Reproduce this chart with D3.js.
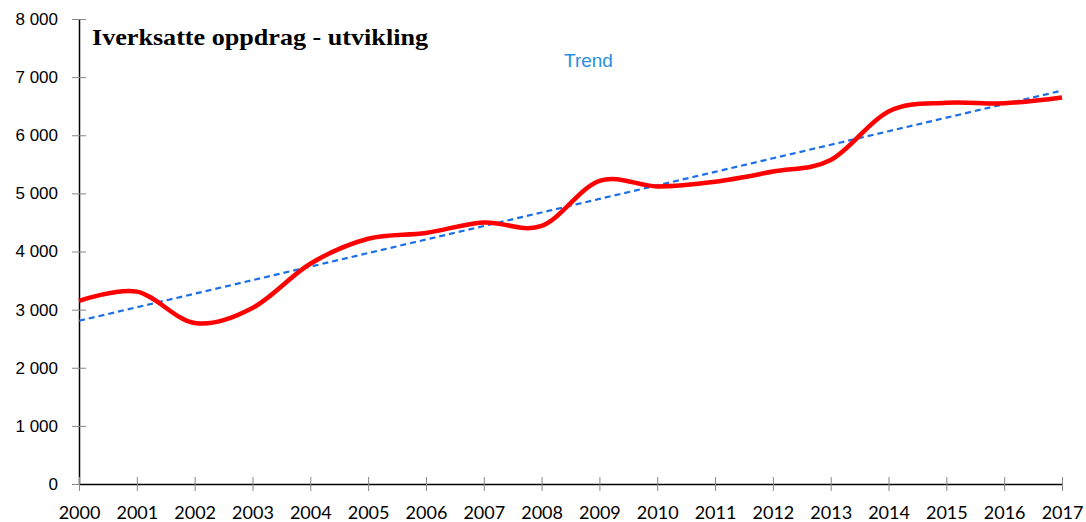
<!DOCTYPE html>
<html>
<head>
<meta charset="utf-8">
<script src="https://cdn.jsdelivr.net/npm/d3@7"></script>
<style>
  body { margin: 0; background: #fff; }
</style>
</head>
<body>
<svg id="chart" width="1086" height="522"></svg>
<script>
// years and the number of executed assignments
const years = [2000, 2001, 2002, 2003, 2004, 2005, 2006, 2007, 2008, 2009, 2010, 2011, 2012, 2013, 2014, 2015, 2016, 2017]
const values = [3150, 3310, 2770, 3030, 3790, 4220, 4320, 4500, 4440, 5215, 5120, 5200, 5375, 5575, 6410, 6560, 6550, 6650]
const yTicks = [0, 1000, 2000, 3000, 4000, 5000, 6000, 7000, 8000]

const titleText = "Iverksatte oppdrag - utvikling"
const trendLabel = "Trend"

const plotLeft = 79, plotRight = 1062, plotTop = 19, plotBottom = 484
const svg = d3.select('#chart')

const x = d3.scaleLinear()
  .domain([years[0], years[years.length - 1]])
  .range([plotLeft, plotRight])

const y = d3.scaleLinear()
  .domain([0, 8000])
  .range([plotBottom, plotTop])

const fmt = d => d3.format(",")(d).replace(/,/g, " ")

// y axis
const yAxis = svg.append("g")
  .attr("transform", `translate(${plotLeft},0)`)
  .call(d3.axisLeft(y).tickValues(yTicks).tickSize(0).tickFormat(fmt))
yAxis.select(".domain").attr("stroke", "#000").attr("stroke-width", 1.5)
yAxis.selectAll(".tick text")
  .attr("x", -21)
  .attr("font-family", "Liberation Sans, Arial, sans-serif")
  .attr("font-size", 17)
  .attr("fill", "#000")
yAxis.selectAll(".tick").append("line")
  .attr("x1", -7).attr("x2", 7)
  .attr("stroke", "#888")

// x axis
const xAxis = svg.append("g")
  .attr("transform", `translate(0,${plotBottom})`)
  .call(d3.axisBottom(x).tickValues(years).tickSize(0).tickFormat(d3.format("d")))
xAxis.select(".domain").attr("stroke", "#000").attr("stroke-width", 1.5)
xAxis.selectAll(".tick text")
  .attr("y", 22)
  .attr("dy", "0.71em")
  .attr("font-family", "Lato, Open Sans, sans-serif")
  .attr("font-size", 18)
  .attr("fill", "#000")
xAxis.selectAll(".tick").append("line")
  .attr("y1", -7).attr("y2", 7)
  .attr("stroke", "#888")

// linear trend (least squares)
const mx = d3.mean(years), my = d3.mean(values)
const slope = d3.sum(years, (d, i) => (d - mx) * (values[i] - my)) / d3.sum(years, d => (d - mx) ** 2)
const trend = years.map(d => my + slope * (d - mx))

svg.append("path")
  .datum(years)
  .attr("fill", "none")
  .attr("stroke", "#1a6fe8")
  .attr("stroke-width", 2.2)
  .attr("stroke-dasharray", "6,4")
  .attr("d", d3.line().x(d => x(d)).y((d, i) => y(trend[i])))

// smoothed data line
svg.append("path")
  .datum(years)
  .attr("fill", "none")
  .attr("stroke", "#ff0000")
  .attr("stroke-width", 4.5)
  .attr("stroke-linejoin", "round")
  .attr("d", d3.line().x(d => x(d)).y((d, i) => y(values[i])).curve(d3.curveCatmullRom.alpha(0)))

// title and label
svg.append("text")
  .attr("x", 92)
  .attr("y", 45)
  .attr("font-family", "Liberation Serif, Times New Roman, serif")
  .attr("font-weight", "bold")
  .attr("font-size", 24)
  .attr("textLength", 336)
  .attr("lengthAdjust", "spacingAndGlyphs")
  .text(titleText)

svg.append("text")
  .attr("x", 564)
  .attr("y", 67)
  .attr("font-family", "Liberation Sans, Arial, sans-serif")
  .attr("font-size", 19)
  .attr("fill", "#2a90e0")
  .text(trendLabel)
</script>
</body>
</html>
